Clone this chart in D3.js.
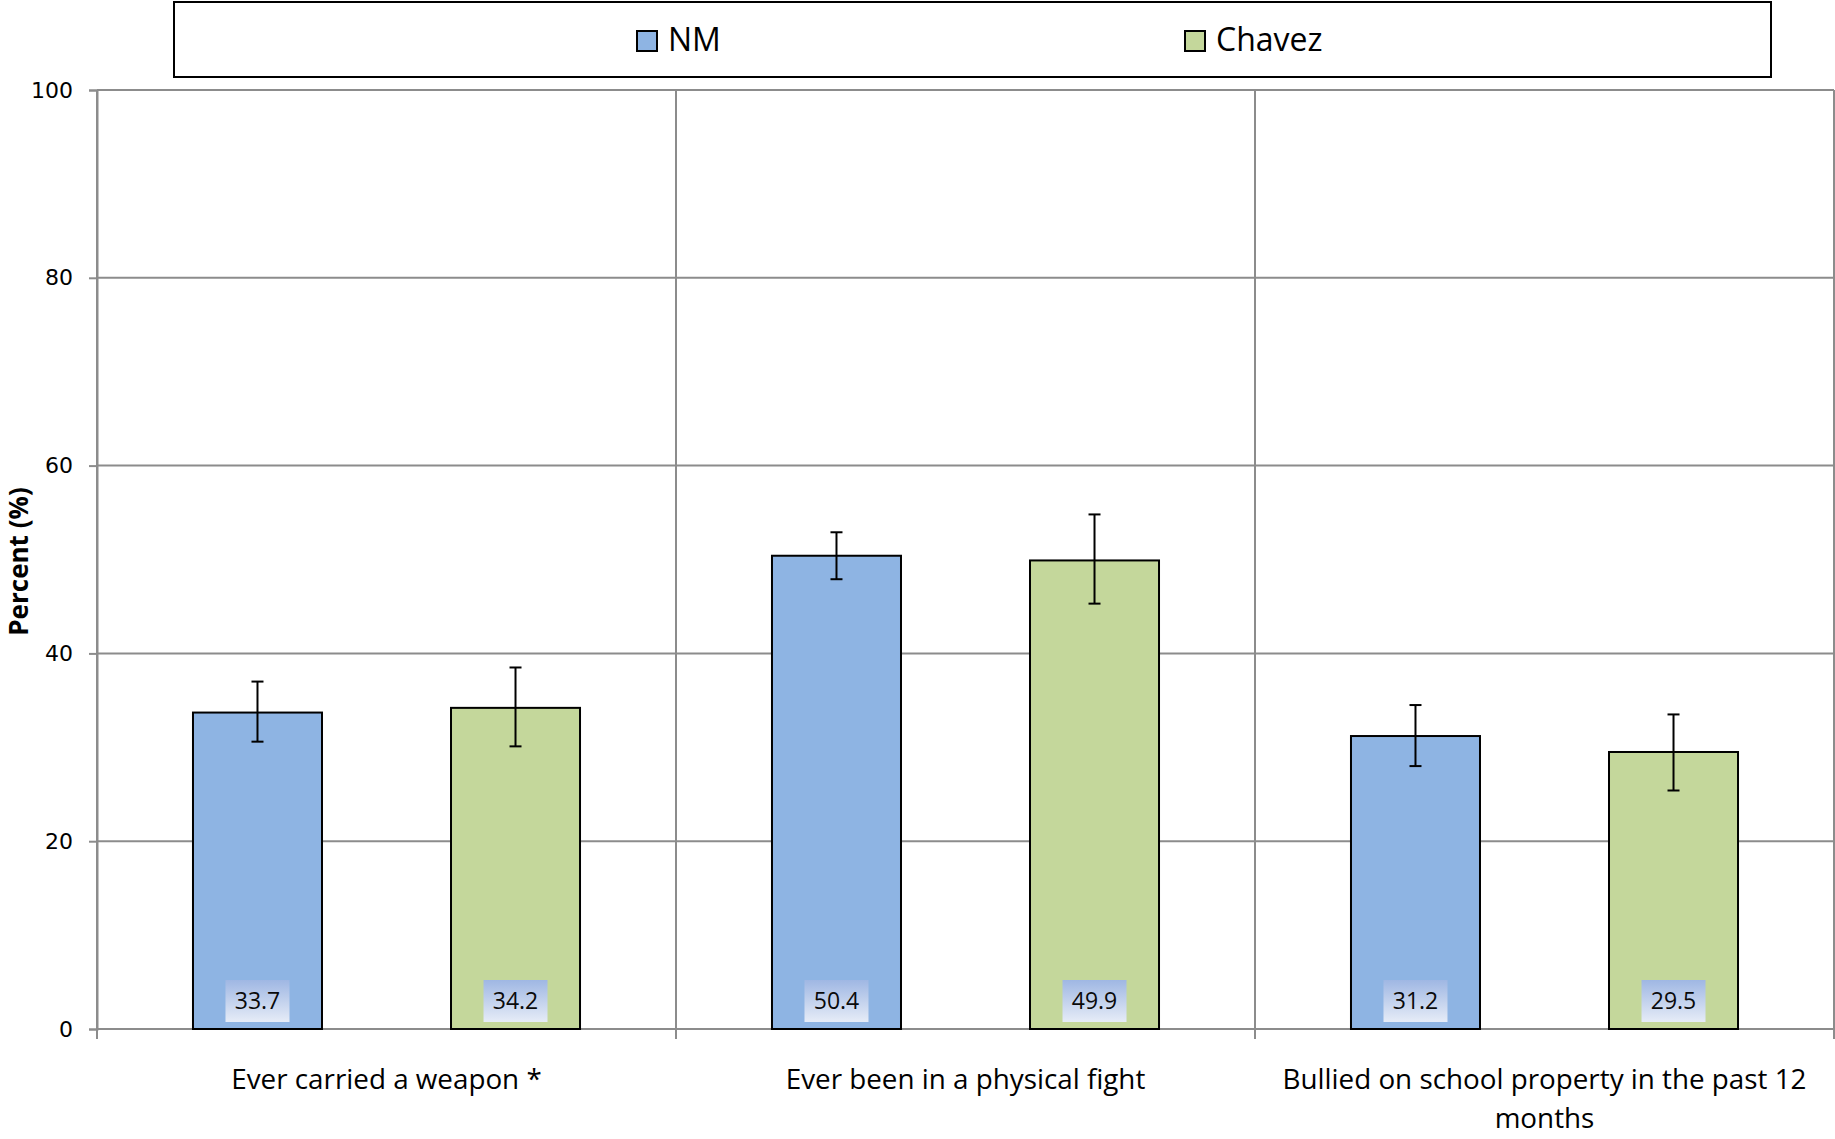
<!DOCTYPE html>
<html>
<head>
<meta charset="utf-8">
<script src="https://cdn.jsdelivr.net/npm/d3@7"></script>
<style>
  html, body { margin: 0; padding: 0; background: #fff; }
  svg { display: block; }
</style>
</head>
<body>
<svg id="chart" width="1835" height="1139"></svg>
<script>
// ---- data ----
const categories = ["Ever carried a weapon *", "Ever been in a physical fight", "Bullied on school property in the past 12 months"];
const seriesNames = ["NM", "Chavez"];
const nmValues = [33.7, 50.4, 31.2];
const nmLower = [30.6, 47.9, 28.0];
const nmUpper = [37.0, 52.9, 34.5];
const chavezValues = [34.2, 49.9, 29.5];
const chavezLower = [30.1, 45.3, 25.4];
const chavezUpper = [38.5, 54.8, 33.5];
const yTicks = [0, 20, 40, 60, 80, 100];
const yTitle = "Percent (%)";

const colors = { NM: "#8eb4e3", Chavez: "#c4d79b" };
const gridColor = "#8c8c8c";

const series = [
  { name: "NM", values: nmValues, lower: nmLower, upper: nmUpper },
  { name: "Chavez", values: chavezValues, lower: chavezLower, upper: chavezUpper }
];

const svg = d3.select("#chart");
const plot = { left: 97, right: 1834, top: 90, bottom: 1029 };

const x = d3.scaleBand().domain(categories).range([plot.left, plot.right]).padding(0);
const xs = d3.scaleBand().domain(seriesNames).range([0, x.bandwidth()]).paddingInner(0.5).paddingOuter(0.372);
const y = d3.scaleLinear().domain([0, 100]).range([plot.bottom, plot.top]);

// gradient for data labels
const defs = svg.append("defs");
const grad = defs.append("linearGradient").attr("id", "lblGrad").attr("x1", 0).attr("y1", 0).attr("x2", 0).attr("y2", 1);
grad.append("stop").attr("offset", "0%").attr("stop-color", "#9fb7e3");
grad.append("stop").attr("offset", "100%").attr("stop-color", "#e6ecf7");

// horizontal gridlines
svg.append("g").selectAll("line").data(yTicks).join("line")
  .attr("x1", plot.left).attr("x2", plot.right)
  .attr("y1", d => y(d)).attr("y2", d => y(d))
  .attr("stroke", gridColor).attr("stroke-width", 2);

// vertical category separators (extend below axis as ticks)
const seps = categories.map(c => x(c)).concat([x(categories[categories.length - 1]) + x.bandwidth()]);
svg.append("g").selectAll("line").data(seps).join("line")
  .attr("x1", d => d).attr("x2", d => d)
  .attr("y1", plot.top).attr("y2", plot.bottom + 10)
  .attr("stroke", gridColor).attr("stroke-width", 2);

// y axis
const yAxis = d3.axisLeft(y).tickValues(yTicks).tickSize(8).tickPadding(16);
const yg = svg.append("g").attr("transform", `translate(${plot.left},0)`).call(yAxis);
yg.select(".domain").attr("stroke", gridColor).attr("stroke-width", 2);
yg.selectAll(".tick line").attr("stroke", gridColor).attr("stroke-width", 2);
yg.selectAll(".tick text").attr("font-family", "DejaVu Sans").attr("font-size", 22).attr("fill", "#000");

// y title
svg.append("text")
  .attr("transform", `translate(28,${(plot.top + plot.bottom) / 2 + 2}) rotate(-90)`)
  .attr("text-anchor", "middle")
  .attr("font-family", "Open Sans").attr("font-weight", "bold").attr("font-size", 26)
  .text(yTitle);

// bars
const groups = svg.append("g").selectAll("g").data(series).join("g");
groups.selectAll("rect").data(s => s.values.map((v, i) => ({ name: s.name, cat: categories[i], v }))).join("rect")
  .attr("x", d => x(d.cat) + xs(d.name))
  .attr("y", d => y(d.v))
  .attr("width", xs.bandwidth())
  .attr("height", d => y(0) - y(d.v))
  .attr("fill", d => colors[d.name])
  .attr("stroke", "#000").attr("stroke-width", 2);

// error bars
const errData = [];
series.forEach(s => s.values.forEach((v, i) => errData.push({ name: s.name, cat: categories[i], lo: s.lower[i], hi: s.upper[i] })));
const eg = svg.append("g").attr("stroke", "#000").attr("stroke-width", 2);
const cx = d => x(d.cat) + xs(d.name) + xs.bandwidth() / 2;
eg.selectAll("line.v").data(errData).join("line").attr("class", "v")
  .attr("x1", cx).attr("x2", cx).attr("y1", d => y(d.lo)).attr("y2", d => y(d.hi));
eg.selectAll("line.t").data(errData).join("line").attr("class", "t")
  .attr("x1", d => cx(d) - 6).attr("x2", d => cx(d) + 6).attr("y1", d => y(d.hi)).attr("y2", d => y(d.hi));
eg.selectAll("line.b").data(errData).join("line").attr("class", "b")
  .attr("x1", d => cx(d) - 6).attr("x2", d => cx(d) + 6).attr("y1", d => y(d.lo)).attr("y2", d => y(d.lo));

// data labels
const labData = [];
series.forEach(s => s.values.forEach((v, i) => labData.push({ name: s.name, cat: categories[i], v })));
const lg = svg.append("g").selectAll("g").data(labData).join("g")
  .attr("transform", d => `translate(${cx(d)},${y(0) - 49})`);
lg.append("rect").attr("x", -32).attr("y", 0).attr("width", 64).attr("height", 42).attr("fill", "url(#lblGrad)");
lg.append("text").attr("x", 0).attr("y", 29).attr("text-anchor", "middle")
  .attr("font-family", "Open Sans").attr("font-size", 23).attr("fill", "#0a0a0a")
  .text(d => d.v.toFixed(1));

// x labels with wrapping
const xl = svg.append("g").selectAll("text").data(categories).join("text")
  .attr("x", d => x(d) + x.bandwidth() / 2)
  .attr("y", 1089)
  .attr("text-anchor", "middle")
  .attr("font-family", "Open Sans").attr("font-size", 27.8).attr("fill", "#000");
xl.each(function (d) {
  const t = d3.select(this);
  const words = d.split(" ");
  let line = [];
  let tspan = t.append("tspan").attr("x", x(d) + x.bandwidth() / 2).attr("dy", 0);
  const maxW = x.bandwidth() - 20;
  words.forEach(w => {
    line.push(w);
    tspan.text(line.join(" "));
    if (tspan.node().getComputedTextLength() > maxW && line.length > 1) {
      line.pop();
      tspan.text(line.join(" "));
      line = [w];
      tspan = t.append("tspan").attr("x", x(d) + x.bandwidth() / 2).attr("dy", 39).text(w);
    }
  });
});

// legend
svg.append("rect").attr("x", 174).attr("y", 2).attr("width", 1597).attr("height", 75)
  .attr("fill", "#fff").attr("stroke", "#000").attr("stroke-width", 2);
const legX = [637, 1185];
const leg = svg.append("g").selectAll("g").data(seriesNames).join("g")
  .attr("transform", (d, i) => `translate(${legX[i]},31)`);
leg.append("rect").attr("width", 20).attr("height", 20).attr("fill", d => colors[d]).attr("stroke", "#000").attr("stroke-width", 2);
leg.append("text").attr("x", 31).attr("y", 20).attr("font-family", "Open Sans").attr("font-size", 32).text(d => d);
</script>
</body>
</html>
